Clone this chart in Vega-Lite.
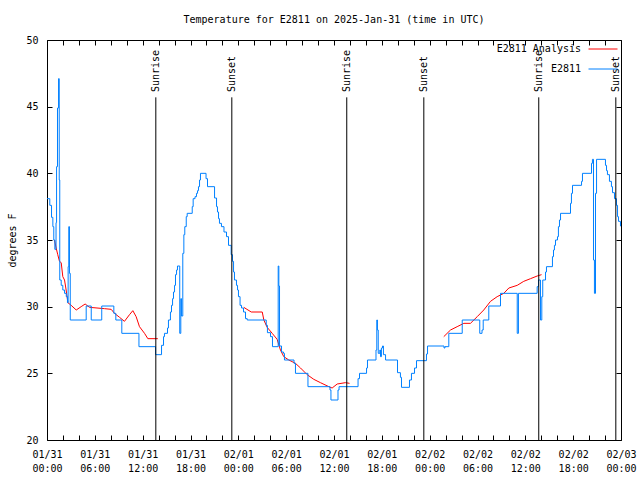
{
  "$schema": "https://vega.github.io/schema/vega-lite/v6.json",
  "width": 574,
  "height": 400,
  "autosize": {"type": "none"},
  "padding": {"left": 47, "top": 40, "right": 19, "bottom": 40},
  "background": "white",
  "config": {
    "font": "DejaVu Sans Mono",
    "view": {"stroke": "black", "strokeWidth": 1},
    "axis": {"grid": false, "labelFont": "DejaVu Sans Mono", "labelFontSize": 10, "labelColor": "black", "tickColor": "black", "domain": false, "titleFont": "DejaVu Sans Mono", "titleFontSize": 10, "titleFontWeight": "normal", "titleColor": "black"}
  },
  "title": {"text": "Temperature for E2811 on 2025-Jan-31 (time in UTC)", "font": "DejaVu Sans Mono", "fontSize": 10, "fontWeight": "normal", "color": "black", "anchor": "middle", "offset": 9},
  "datasets": {
    "temps": [
      {"series": "E2811 Analysis", "seg": "r1", "t": "2025-01-31T00:56:00Z", "v": 35.0},
      {"series": "E2811 Analysis", "seg": "r1", "t": "2025-01-31T01:09:00Z", "v": 34.4},
      {"series": "E2811 Analysis", "seg": "r1", "t": "2025-01-31T01:21:00Z", "v": 33.9},
      {"series": "E2811 Analysis", "seg": "r1", "t": "2025-01-31T01:34:00Z", "v": 33.4},
      {"series": "E2811 Analysis", "seg": "r1", "t": "2025-01-31T01:47:00Z", "v": 33.3},
      {"series": "E2811 Analysis", "seg": "r1", "t": "2025-01-31T01:59:00Z", "v": 32.25},
      {"series": "E2811 Analysis", "seg": "r1", "t": "2025-01-31T02:12:00Z", "v": 32.0},
      {"series": "E2811 Analysis", "seg": "r1", "t": "2025-01-31T02:24:00Z", "v": 31.25},
      {"series": "E2811 Analysis", "seg": "r1", "t": "2025-01-31T02:37:00Z", "v": 30.3},
      {"series": "E2811 Analysis", "seg": "r1", "t": "2025-01-31T03:02:00Z", "v": 30.1},
      {"series": "E2811 Analysis", "seg": "r1", "t": "2025-01-31T03:40:00Z", "v": 29.75},
      {"series": "E2811 Analysis", "seg": "r1", "t": "2025-01-31T04:17:00Z", "v": 30.0},
      {"series": "E2811 Analysis", "seg": "r1", "t": "2025-01-31T04:47:00Z", "v": 30.2},
      {"series": "E2811 Analysis", "seg": "r1", "t": "2025-01-31T05:20:00Z", "v": 29.95},
      {"series": "E2811 Analysis", "seg": "r1", "t": "2025-01-31T07:13:00Z", "v": 29.85},
      {"series": "E2811 Analysis", "seg": "r1", "t": "2025-01-31T08:03:00Z", "v": 29.8},
      {"series": "E2811 Analysis", "seg": "r1", "t": "2025-01-31T08:28:00Z", "v": 29.5},
      {"series": "E2811 Analysis", "seg": "r1", "t": "2025-01-31T09:06:00Z", "v": 29.2},
      {"series": "E2811 Analysis", "seg": "r1", "t": "2025-01-31T09:43:00Z", "v": 28.9},
      {"series": "E2811 Analysis", "seg": "r1", "t": "2025-01-31T10:21:00Z", "v": 29.4},
      {"series": "E2811 Analysis", "seg": "r1", "t": "2025-01-31T10:46:00Z", "v": 29.7},
      {"series": "E2811 Analysis", "seg": "r1", "t": "2025-01-31T11:11:00Z", "v": 29.25},
      {"series": "E2811 Analysis", "seg": "r1", "t": "2025-01-31T11:36:00Z", "v": 28.5},
      {"series": "E2811 Analysis", "seg": "r1", "t": "2025-01-31T12:14:00Z", "v": 28.0},
      {"series": "E2811 Analysis", "seg": "r1", "t": "2025-01-31T12:39:00Z", "v": 27.6},
      {"series": "E2811 Analysis", "seg": "r1", "t": "2025-01-31T13:54:00Z", "v": 27.6},
      {"series": "E2811 Analysis", "seg": "r2", "t": "2025-02-01T00:41:00Z", "v": 29.95},
      {"series": "E2811 Analysis", "seg": "r2", "t": "2025-02-01T01:37:00Z", "v": 29.6},
      {"series": "E2811 Analysis", "seg": "r2", "t": "2025-02-01T03:00:00Z", "v": 29.6},
      {"series": "E2811 Analysis", "seg": "r2", "t": "2025-02-01T03:12:00Z", "v": 29.0},
      {"series": "E2811 Analysis", "seg": "r2", "t": "2025-02-01T03:37:00Z", "v": 28.45},
      {"series": "E2811 Analysis", "seg": "r2", "t": "2025-02-01T04:15:00Z", "v": 28.0},
      {"series": "E2811 Analysis", "seg": "r2", "t": "2025-02-01T04:52:00Z", "v": 27.55},
      {"series": "E2811 Analysis", "seg": "r2", "t": "2025-02-01T05:17:00Z", "v": 26.75},
      {"series": "E2811 Analysis", "seg": "r2", "t": "2025-02-01T05:42:00Z", "v": 26.25},
      {"series": "E2811 Analysis", "seg": "r2", "t": "2025-02-01T06:20:00Z", "v": 26.0},
      {"series": "E2811 Analysis", "seg": "r2", "t": "2025-02-01T07:10:00Z", "v": 25.75},
      {"series": "E2811 Analysis", "seg": "r2", "t": "2025-02-01T07:48:00Z", "v": 25.4},
      {"series": "E2811 Analysis", "seg": "r2", "t": "2025-02-01T08:38:00Z", "v": 24.9},
      {"series": "E2811 Analysis", "seg": "r2", "t": "2025-02-01T09:28:00Z", "v": 24.55},
      {"series": "E2811 Analysis", "seg": "r2", "t": "2025-02-01T10:18:00Z", "v": 24.3},
      {"series": "E2811 Analysis", "seg": "r2", "t": "2025-02-01T11:21:00Z", "v": 24.0},
      {"series": "E2811 Analysis", "seg": "r2", "t": "2025-02-01T11:46:00Z", "v": 23.9},
      {"series": "E2811 Analysis", "seg": "r2", "t": "2025-02-01T12:24:00Z", "v": 24.2},
      {"series": "E2811 Analysis", "seg": "r2", "t": "2025-02-01T13:26:00Z", "v": 24.3},
      {"series": "E2811 Analysis", "seg": "r2", "t": "2025-02-01T13:57:00Z", "v": 24.25},
      {"series": "E2811 Analysis", "seg": "r3", "t": "2025-02-02T01:46:00Z", "v": 27.75},
      {"series": "E2811 Analysis", "seg": "r3", "t": "2025-02-02T02:37:00Z", "v": 28.25},
      {"series": "E2811 Analysis", "seg": "r3", "t": "2025-02-02T03:27:00Z", "v": 28.5},
      {"series": "E2811 Analysis", "seg": "r3", "t": "2025-02-02T04:17:00Z", "v": 28.75},
      {"series": "E2811 Analysis", "seg": "r3", "t": "2025-02-02T05:07:00Z", "v": 28.75},
      {"series": "E2811 Analysis", "seg": "r3", "t": "2025-02-02T05:58:00Z", "v": 29.25},
      {"series": "E2811 Analysis", "seg": "r3", "t": "2025-02-02T06:47:00Z", "v": 29.75},
      {"series": "E2811 Analysis", "seg": "r3", "t": "2025-02-02T07:38:00Z", "v": 30.4},
      {"series": "E2811 Analysis", "seg": "r3", "t": "2025-02-02T08:28:00Z", "v": 30.75},
      {"series": "E2811 Analysis", "seg": "r3", "t": "2025-02-02T09:18:00Z", "v": 31.0},
      {"series": "E2811 Analysis", "seg": "r3", "t": "2025-02-02T09:56:00Z", "v": 31.4},
      {"series": "E2811 Analysis", "seg": "r3", "t": "2025-02-02T10:59:00Z", "v": 31.6},
      {"series": "E2811 Analysis", "seg": "r3", "t": "2025-02-02T11:48:00Z", "v": 31.9},
      {"series": "E2811 Analysis", "seg": "r3", "t": "2025-02-02T12:39:00Z", "v": 32.1},
      {"series": "E2811 Analysis", "seg": "r3", "t": "2025-02-02T13:29:00Z", "v": 32.3},
      {"series": "E2811 Analysis", "seg": "r3", "t": "2025-02-02T14:02:00Z", "v": 32.4},
      {"series": "E2811", "seg": "b", "t": "2025-01-31T00:00:00Z", "v": 38.1},
      {"series": "E2811", "seg": "b", "t": "2025-01-31T00:21:00Z", "v": 37.6},
      {"series": "E2811", "seg": "b", "t": "2025-01-31T00:34:00Z", "v": 36.7},
      {"series": "E2811", "seg": "b", "t": "2025-01-31T00:44:00Z", "v": 36.0},
      {"series": "E2811", "seg": "b", "t": "2025-01-31T00:51:00Z", "v": 35.0},
      {"series": "E2811", "seg": "b", "t": "2025-01-31T00:59:00Z", "v": 34.3},
      {"series": "E2811", "seg": "b", "t": "2025-01-31T01:08:00Z", "v": 36.3},
      {"series": "E2811", "seg": "b", "t": "2025-01-31T01:12:00Z", "v": 40.5},
      {"series": "E2811", "seg": "b", "t": "2025-01-31T01:19:00Z", "v": 44.9},
      {"series": "E2811", "seg": "b", "t": "2025-01-31T01:27:00Z", "v": 47.1},
      {"series": "E2811", "seg": "b", "t": "2025-01-31T01:32:00Z", "v": 39.5},
      {"series": "E2811", "seg": "b", "t": "2025-01-31T01:36:00Z", "v": 32.0},
      {"series": "E2811", "seg": "b", "t": "2025-01-31T01:47:00Z", "v": 31.6},
      {"series": "E2811", "seg": "b", "t": "2025-01-31T01:59:00Z", "v": 31.25},
      {"series": "E2811", "seg": "b", "t": "2025-01-31T02:12:00Z", "v": 31.0},
      {"series": "E2811", "seg": "b", "t": "2025-01-31T02:25:00Z", "v": 30.75},
      {"series": "E2811", "seg": "b", "t": "2025-01-31T02:34:00Z", "v": 30.3},
      {"series": "E2811", "seg": "b", "t": "2025-01-31T02:39:00Z", "v": 33.0},
      {"series": "E2811", "seg": "b", "t": "2025-01-31T02:44:00Z", "v": 36.0},
      {"series": "E2811", "seg": "b", "t": "2025-01-31T02:49:00Z", "v": 32.5},
      {"series": "E2811", "seg": "b", "t": "2025-01-31T02:55:00Z", "v": 29.0},
      {"series": "E2811", "seg": "b", "t": "2025-01-31T04:55:00Z", "v": 30.05},
      {"series": "E2811", "seg": "b", "t": "2025-01-31T05:33:00Z", "v": 29.0},
      {"series": "E2811", "seg": "b", "t": "2025-01-31T06:52:00Z", "v": 30.05},
      {"series": "E2811", "seg": "b", "t": "2025-01-31T08:23:00Z", "v": 29.5},
      {"series": "E2811", "seg": "b", "t": "2025-01-31T08:38:00Z", "v": 29.0},
      {"series": "E2811", "seg": "b", "t": "2025-01-31T09:23:00Z", "v": 28.0},
      {"series": "E2811", "seg": "b", "t": "2025-01-31T11:32:00Z", "v": 27.0},
      {"series": "E2811", "seg": "b", "t": "2025-01-31T13:37:00Z", "v": 26.4},
      {"series": "E2811", "seg": "b", "t": "2025-01-31T14:22:00Z", "v": 27.1},
      {"series": "E2811", "seg": "b", "t": "2025-01-31T14:37:00Z", "v": 27.75},
      {"series": "E2811", "seg": "b", "t": "2025-01-31T14:44:00Z", "v": 28.0},
      {"series": "E2811", "seg": "b", "t": "2025-01-31T15:07:00Z", "v": 28.4},
      {"series": "E2811", "seg": "b", "t": "2025-01-31T15:14:00Z", "v": 29.0},
      {"series": "E2811", "seg": "b", "t": "2025-01-31T15:29:00Z", "v": 29.6},
      {"series": "E2811", "seg": "b", "t": "2025-01-31T15:37:00Z", "v": 30.1},
      {"series": "E2811", "seg": "b", "t": "2025-01-31T15:45:00Z", "v": 30.6},
      {"series": "E2811", "seg": "b", "t": "2025-01-31T15:52:00Z", "v": 31.1},
      {"series": "E2811", "seg": "b", "t": "2025-01-31T16:00:00Z", "v": 31.6},
      {"series": "E2811", "seg": "b", "t": "2025-01-31T16:07:00Z", "v": 32.4},
      {"series": "E2811", "seg": "b", "t": "2025-01-31T16:15:00Z", "v": 32.75},
      {"series": "E2811", "seg": "b", "t": "2025-01-31T16:22:00Z", "v": 33.05},
      {"series": "E2811", "seg": "b", "t": "2025-01-31T16:39:00Z", "v": 28.0},
      {"series": "E2811", "seg": "b", "t": "2025-01-31T16:47:00Z", "v": 30.6},
      {"series": "E2811", "seg": "b", "t": "2025-01-31T16:52:00Z", "v": 29.3},
      {"series": "E2811", "seg": "b", "t": "2025-01-31T17:02:00Z", "v": 34.0},
      {"series": "E2811", "seg": "b", "t": "2025-01-31T17:10:00Z", "v": 35.4},
      {"series": "E2811", "seg": "b", "t": "2025-01-31T17:17:00Z", "v": 36.0},
      {"series": "E2811", "seg": "b", "t": "2025-01-31T17:28:00Z", "v": 36.75},
      {"series": "E2811", "seg": "b", "t": "2025-01-31T17:35:00Z", "v": 37.0},
      {"series": "E2811", "seg": "b", "t": "2025-01-31T18:13:00Z", "v": 37.5},
      {"series": "E2811", "seg": "b", "t": "2025-01-31T18:20:00Z", "v": 38.1},
      {"series": "E2811", "seg": "b", "t": "2025-01-31T18:34:00Z", "v": 38.25},
      {"series": "E2811", "seg": "b", "t": "2025-01-31T18:45:00Z", "v": 38.5},
      {"series": "E2811", "seg": "b", "t": "2025-01-31T18:53:00Z", "v": 38.7},
      {"series": "E2811", "seg": "b", "t": "2025-01-31T19:00:00Z", "v": 39.0},
      {"series": "E2811", "seg": "b", "t": "2025-01-31T19:08:00Z", "v": 39.5},
      {"series": "E2811", "seg": "b", "t": "2025-01-31T19:15:00Z", "v": 40.0},
      {"series": "E2811", "seg": "b", "t": "2025-01-31T19:57:00Z", "v": 39.6},
      {"series": "E2811", "seg": "b", "t": "2025-01-31T20:08:00Z", "v": 39.0},
      {"series": "E2811", "seg": "b", "t": "2025-01-31T21:01:00Z", "v": 38.15},
      {"series": "E2811", "seg": "b", "t": "2025-01-31T21:16:00Z", "v": 37.5},
      {"series": "E2811", "seg": "b", "t": "2025-01-31T21:23:00Z", "v": 37.1},
      {"series": "E2811", "seg": "b", "t": "2025-01-31T21:31:00Z", "v": 36.6},
      {"series": "E2811", "seg": "b", "t": "2025-01-31T21:38:00Z", "v": 36.25},
      {"series": "E2811", "seg": "b", "t": "2025-01-31T21:53:00Z", "v": 36.0},
      {"series": "E2811", "seg": "b", "t": "2025-01-31T22:12:00Z", "v": 35.6},
      {"series": "E2811", "seg": "b", "t": "2025-01-31T22:31:00Z", "v": 35.25},
      {"series": "E2811", "seg": "b", "t": "2025-01-31T22:46:00Z", "v": 34.6},
      {"series": "E2811", "seg": "b", "t": "2025-01-31T23:06:00Z", "v": 33.9},
      {"series": "E2811", "seg": "b", "t": "2025-01-31T23:16:00Z", "v": 33.4},
      {"series": "E2811", "seg": "b", "t": "2025-01-31T23:24:00Z", "v": 32.6},
      {"series": "E2811", "seg": "b", "t": "2025-01-31T23:31:00Z", "v": 32.0},
      {"series": "E2811", "seg": "b", "t": "2025-01-31T23:46:00Z", "v": 31.6},
      {"series": "E2811", "seg": "b", "t": "2025-01-31T23:54:00Z", "v": 31.25},
      {"series": "E2811", "seg": "b", "t": "2025-02-01T00:01:00Z", "v": 30.75},
      {"series": "E2811", "seg": "b", "t": "2025-02-01T00:13:00Z", "v": 30.1},
      {"series": "E2811", "seg": "b", "t": "2025-02-01T00:24:00Z", "v": 29.9},
      {"series": "E2811", "seg": "b", "t": "2025-02-01T00:39:00Z", "v": 29.6},
      {"series": "E2811", "seg": "b", "t": "2025-02-01T00:54:00Z", "v": 29.1},
      {"series": "E2811", "seg": "b", "t": "2025-02-01T01:07:00Z", "v": 29.0},
      {"series": "E2811", "seg": "b", "t": "2025-02-01T03:30:00Z", "v": 28.6},
      {"series": "E2811", "seg": "b", "t": "2025-02-01T03:39:00Z", "v": 28.05},
      {"series": "E2811", "seg": "b", "t": "2025-02-01T04:02:00Z", "v": 27.75},
      {"series": "E2811", "seg": "b", "t": "2025-02-01T04:17:00Z", "v": 27.0},
      {"series": "E2811", "seg": "b", "t": "2025-02-01T05:00:00Z", "v": 33.05},
      {"series": "E2811", "seg": "b", "t": "2025-02-01T05:05:00Z", "v": 31.55},
      {"series": "E2811", "seg": "b", "t": "2025-02-01T05:10:00Z", "v": 27.05},
      {"series": "E2811", "seg": "b", "t": "2025-02-01T05:25:00Z", "v": 26.6},
      {"series": "E2811", "seg": "b", "t": "2025-02-01T05:40:00Z", "v": 26.5},
      {"series": "E2811", "seg": "b", "t": "2025-02-01T05:47:00Z", "v": 26.0},
      {"series": "E2811", "seg": "b", "t": "2025-02-01T06:59:00Z", "v": 25.75},
      {"series": "E2811", "seg": "b", "t": "2025-02-01T07:10:00Z", "v": 25.0},
      {"series": "E2811", "seg": "b", "t": "2025-02-01T08:44:00Z", "v": 24.0},
      {"series": "E2811", "seg": "b", "t": "2025-02-01T11:30:00Z", "v": 23.75},
      {"series": "E2811", "seg": "b", "t": "2025-02-01T11:37:00Z", "v": 23.0},
      {"series": "E2811", "seg": "b", "t": "2025-02-01T12:30:00Z", "v": 23.75},
      {"series": "E2811", "seg": "b", "t": "2025-02-01T12:38:00Z", "v": 24.0},
      {"series": "E2811", "seg": "b", "t": "2025-02-01T15:01:00Z", "v": 24.6},
      {"series": "E2811", "seg": "b", "t": "2025-02-01T15:12:00Z", "v": 25.0},
      {"series": "E2811", "seg": "b", "t": "2025-02-01T16:05:00Z", "v": 25.4},
      {"series": "E2811", "seg": "b", "t": "2025-02-01T16:12:00Z", "v": 26.0},
      {"series": "E2811", "seg": "b", "t": "2025-02-01T17:16:00Z", "v": 26.75},
      {"series": "E2811", "seg": "b", "t": "2025-02-01T17:22:00Z", "v": 29.0},
      {"series": "E2811", "seg": "b", "t": "2025-02-01T17:27:00Z", "v": 28.25},
      {"series": "E2811", "seg": "b", "t": "2025-02-01T17:33:00Z", "v": 26.5},
      {"series": "E2811", "seg": "b", "t": "2025-02-01T17:45:00Z", "v": 26.75},
      {"series": "E2811", "seg": "b", "t": "2025-02-01T17:50:00Z", "v": 26.25},
      {"series": "E2811", "seg": "b", "t": "2025-02-01T17:57:00Z", "v": 26.9},
      {"series": "E2811", "seg": "b", "t": "2025-02-01T18:05:00Z", "v": 27.05},
      {"series": "E2811", "seg": "b", "t": "2025-02-01T18:12:00Z", "v": 26.4},
      {"series": "E2811", "seg": "b", "t": "2025-02-01T18:28:00Z", "v": 26.0},
      {"series": "E2811", "seg": "b", "t": "2025-02-01T19:58:00Z", "v": 25.05},
      {"series": "E2811", "seg": "b", "t": "2025-02-01T20:20:00Z", "v": 24.7},
      {"series": "E2811", "seg": "b", "t": "2025-02-01T20:28:00Z", "v": 23.95},
      {"series": "E2811", "seg": "b", "t": "2025-02-01T21:28:00Z", "v": 24.5},
      {"series": "E2811", "seg": "b", "t": "2025-02-01T21:43:00Z", "v": 25.0},
      {"series": "E2811", "seg": "b", "t": "2025-02-01T22:06:00Z", "v": 25.4},
      {"series": "E2811", "seg": "b", "t": "2025-02-01T22:21:00Z", "v": 25.95},
      {"series": "E2811", "seg": "b", "t": "2025-02-01T23:36:00Z", "v": 26.45},
      {"series": "E2811", "seg": "b", "t": "2025-02-01T23:44:00Z", "v": 27.05},
      {"series": "E2811", "seg": "b", "t": "2025-02-02T01:48:00Z", "v": 26.9},
      {"series": "E2811", "seg": "b", "t": "2025-02-02T01:55:00Z", "v": 27.0},
      {"series": "E2811", "seg": "b", "t": "2025-02-02T02:24:00Z", "v": 28.0},
      {"series": "E2811", "seg": "b", "t": "2025-02-02T04:05:00Z", "v": 29.0},
      {"series": "E2811", "seg": "b", "t": "2025-02-02T06:17:00Z", "v": 28.0},
      {"series": "E2811", "seg": "b", "t": "2025-02-02T06:34:00Z", "v": 28.25},
      {"series": "E2811", "seg": "b", "t": "2025-02-02T06:43:00Z", "v": 29.0},
      {"series": "E2811", "seg": "b", "t": "2025-02-02T07:25:00Z", "v": 30.05},
      {"series": "E2811", "seg": "b", "t": "2025-02-02T08:53:00Z", "v": 31.0},
      {"series": "E2811", "seg": "b", "t": "2025-02-02T10:59:00Z", "v": 28.0},
      {"series": "E2811", "seg": "b", "t": "2025-02-02T11:08:00Z", "v": 31.0},
      {"series": "E2811", "seg": "b", "t": "2025-02-02T13:29:00Z", "v": 31.5},
      {"series": "E2811", "seg": "b", "t": "2025-02-02T13:39:00Z", "v": 32.0},
      {"series": "E2811", "seg": "b", "t": "2025-02-02T13:54:00Z", "v": 29.0},
      {"series": "E2811", "seg": "b", "t": "2025-02-02T14:04:00Z", "v": 30.75},
      {"series": "E2811", "seg": "b", "t": "2025-02-02T14:11:00Z", "v": 32.0},
      {"series": "E2811", "seg": "b", "t": "2025-02-02T14:32:00Z", "v": 32.6},
      {"series": "E2811", "seg": "b", "t": "2025-02-02T14:39:00Z", "v": 33.0},
      {"series": "E2811", "seg": "b", "t": "2025-02-02T15:24:00Z", "v": 33.75},
      {"series": "E2811", "seg": "b", "t": "2025-02-02T15:32:00Z", "v": 34.25},
      {"series": "E2811", "seg": "b", "t": "2025-02-02T15:39:00Z", "v": 34.6},
      {"series": "E2811", "seg": "b", "t": "2025-02-02T15:47:00Z", "v": 35.0},
      {"series": "E2811", "seg": "b", "t": "2025-02-02T16:02:00Z", "v": 35.25},
      {"series": "E2811", "seg": "b", "t": "2025-02-02T16:09:00Z", "v": 36.0},
      {"series": "E2811", "seg": "b", "t": "2025-02-02T16:17:00Z", "v": 36.5},
      {"series": "E2811", "seg": "b", "t": "2025-02-02T16:25:00Z", "v": 37.0},
      {"series": "E2811", "seg": "b", "t": "2025-02-02T17:40:00Z", "v": 37.75},
      {"series": "E2811", "seg": "b", "t": "2025-02-02T17:47:00Z", "v": 38.5},
      {"series": "E2811", "seg": "b", "t": "2025-02-02T17:55:00Z", "v": 39.1},
      {"series": "E2811", "seg": "b", "t": "2025-02-02T19:03:00Z", "v": 39.4},
      {"series": "E2811", "seg": "b", "t": "2025-02-02T19:10:00Z", "v": 40.0},
      {"series": "E2811", "seg": "b", "t": "2025-02-02T20:18:00Z", "v": 40.75},
      {"series": "E2811", "seg": "b", "t": "2025-02-02T20:25:00Z", "v": 41.05},
      {"series": "E2811", "seg": "b", "t": "2025-02-02T20:33:00Z", "v": 33.5},
      {"series": "E2811", "seg": "b", "t": "2025-02-02T20:40:00Z", "v": 31.0},
      {"series": "E2811", "seg": "b", "t": "2025-02-02T20:48:00Z", "v": 38.5},
      {"series": "E2811", "seg": "b", "t": "2025-02-02T20:56:00Z", "v": 41.05},
      {"series": "E2811", "seg": "b", "t": "2025-02-02T22:03:00Z", "v": 40.6},
      {"series": "E2811", "seg": "b", "t": "2025-02-02T22:11:00Z", "v": 40.2},
      {"series": "E2811", "seg": "b", "t": "2025-02-02T22:18:00Z", "v": 39.9},
      {"series": "E2811", "seg": "b", "t": "2025-02-02T22:33:00Z", "v": 39.4},
      {"series": "E2811", "seg": "b", "t": "2025-02-02T22:48:00Z", "v": 39.0},
      {"series": "E2811", "seg": "b", "t": "2025-02-02T22:56:00Z", "v": 38.55},
      {"series": "E2811", "seg": "b", "t": "2025-02-02T23:11:00Z", "v": 38.1},
      {"series": "E2811", "seg": "b", "t": "2025-02-02T23:26:00Z", "v": 37.6},
      {"series": "E2811", "seg": "b", "t": "2025-02-02T23:34:00Z", "v": 36.75},
      {"series": "E2811", "seg": "b", "t": "2025-02-02T23:41:00Z", "v": 36.4},
      {"series": "E2811", "seg": "b", "t": "2025-02-02T23:56:00Z", "v": 36.05},
      {"series": "E2811", "seg": "b", "t": "2025-02-03T00:00:00Z", "v": 36.05}
    ],
    "sun": [
      {"event": "Sunrise", "t": "2025-01-31T13:39:00Z"},
      {"event": "Sunset", "t": "2025-01-31T23:11:00Z"},
      {"event": "Sunrise", "t": "2025-02-01T13:36:00Z"},
      {"event": "Sunset", "t": "2025-02-01T23:16:00Z"},
      {"event": "Sunrise", "t": "2025-02-02T13:41:00Z"},
      {"event": "Sunset", "t": "2025-02-02T23:21:00Z"}
    ]
  },
  "layer": [
    {
      "data": {"name": "temps"},
      "transform": [{"filter": "datum.series == 'E2811 Analysis'"}],
      "mark": {"type": "line", "strokeWidth": 1, "interpolate": "linear"},
      "encoding": {
        "x": {"field": "t", "type": "temporal",
          "scale": {"type": "utc", "domain": [{"year": 2025, "month": 1, "date": 31, "utc": true}, {"year": 2025, "month": 2, "date": 3, "utc": true}]},
          "axis": {"orient": "top", "title": null, "labels": false, "tickSize": -5,
            "values": [1738281600000, 1738288800000, 1738296000000, 1738303200000, 1738310400000, 1738317600000, 1738324800000, 1738332000000, 1738339200000, 1738346400000, 1738353600000, 1738360800000, 1738368000000, 1738375200000, 1738382400000, 1738389600000, 1738396800000, 1738404000000, 1738411200000, 1738418400000, 1738425600000, 1738432800000, 1738440000000, 1738447200000, 1738454400000, 1738461600000, 1738468800000, 1738476000000, 1738483200000, 1738490400000, 1738497600000, 1738504800000, 1738512000000, 1738519200000, 1738526400000, 1738533600000, 1738540800000]}},
        "y": {"field": "v", "type": "quantitative",
          "scale": {"domain": [20, 50], "nice": false, "zero": false},
          "axis": {"orient": "right", "title": null, "labels": false, "tickSize": -5, "values": [20, 25, 30, 35, 40, 45, 50]}},
        "color": {"field": "series", "type": "nominal",
          "scale": {"domain": ["E2811 Analysis", "E2811"], "range": ["#ff0000", "#0080ff"]},
          "legend": {"title": null, "orient": "none", "legendX": 541, "legendY": -6, "symbolType": "stroke", "symbolSize": 841, "symbolStrokeWidth": 1, "labelAlign": "right", "labelOffset": -37, "labelFont": "DejaVu Sans Mono", "labelFontSize": 10, "labelColor": "black", "rowPadding": -6}},
        "detail": {"field": "seg"}
      }
    },
    {
      "data": {"name": "temps"},
      "transform": [{"filter": "datum.series == 'E2811'"}],
      "mark": {"type": "line", "strokeWidth": 1, "interpolate": "step-after"},
      "encoding": {
        "x": {"field": "t", "type": "temporal",
          "axis": {"orient": "bottom", "title": null, "tickSize": -5, "labelOverlap": false, "labelFlush": false, "labelAlign": "center", "labelBaseline": "top", "labelPadding": 14, "labelLineHeight": 14,
            "values": [1738281600000, 1738288800000, 1738296000000, 1738303200000, 1738310400000, 1738317600000, 1738324800000, 1738332000000, 1738339200000, 1738346400000, 1738353600000, 1738360800000, 1738368000000, 1738375200000, 1738382400000, 1738389600000, 1738396800000, 1738404000000, 1738411200000, 1738418400000, 1738425600000, 1738432800000, 1738440000000, 1738447200000, 1738454400000, 1738461600000, 1738468800000, 1738476000000, 1738483200000, 1738490400000, 1738497600000, 1738504800000, 1738512000000, 1738519200000, 1738526400000, 1738533600000, 1738540800000],
            "labelExpr": "datum.value % 21600000 == 0 ? [utcFormat(datum.value, '%m/%d'), utcFormat(datum.value, '%H:%M')] : ''"}},
        "y": {"field": "v", "type": "quantitative",
          "axis": {"orient": "left", "title": "degrees F", "tickSize": -5, "values": [20, 25, 30, 35, 40, 45, 50], "labelPadding": 14, "titlePadding": 8}},
        "color": {"field": "series", "type": "nominal"}
      }
    },
    {
      "data": {"name": "sun"},
      "mark": {"type": "rule", "color": "black", "strokeWidth": 1},
      "encoding": {
        "x": {"field": "t", "type": "temporal", "axis": null},
        "y": {"datum": 20, "axis": null},
        "y2": {"datum": 45.7}
      }
    },
    {
      "data": {"name": "sun"},
      "mark": {"type": "text", "angle": 270, "align": "left", "baseline": "middle", "font": "DejaVu Sans Mono", "fontSize": 10, "color": "black"},
      "encoding": {
        "x": {"field": "t", "type": "temporal", "axis": null},
        "y": {"datum": 46.1, "axis": null},
        "text": {"field": "event"}
      }
    }
  ],
  "resolve": {"axis": {"x": "independent", "y": "independent"}}
}
